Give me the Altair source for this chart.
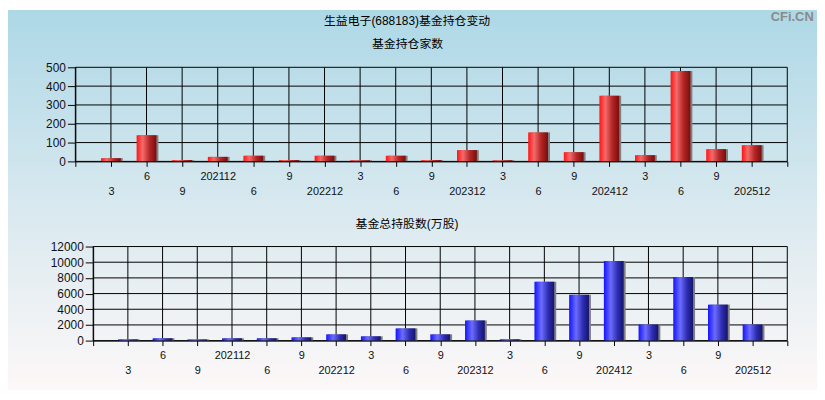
import altair as alt
import pandas as pd

# ---------------- data ----------------
periods = ["202103", "202106", "202109", "202112", "202206", "202209", "202212",
           "202303", "202306", "202309", "202312", "202403", "202406", "202409",
           "202412", "202503", "202506", "202509", "202512"]
fund_counts = [17, 139, 7, 24, 30, 7, 30, 6, 30, 7, 60, 6, 154, 49, 349, 33, 481, 65, 86]
fund_shares = [160, 300, 150, 300, 300, 420, 800, 550, 1560, 800, 2570, 170, 7500,
               5850, 10150, 2060, 8130, 4590, 2060]
count_ticks = [0, 100, 200, 300, 400, 500]
share_ticks = [0, 2000, 4000, 6000, 8000, 10000, 12000]
tick_labels = [p if p.endswith("12") else str(int(p[4:])) for p in periods]

main_title = "生益电子(688183)基金持仓变动"
top_title = "基金持仓家数"
bottom_title = "基金总持股数(万股)"
watermark = "CFi.CN"

n = len(periods)
df = pd.DataFrame({"idx": list(range(1, n + 1)), "period": periods,
                   "count": fund_counts, "shares": fund_shares})
xgrid = pd.DataFrame({"v": list(range(0, n + 2))})
one = pd.DataFrame({"a": [0]})

FONT = "Liberation Sans, Noto Sans CJK SC, sans-serif"
TOP_W, BOT_W, H = 719, 701, 95

labels_js = "[" + ",".join(f"'{l}'" for l in tick_labels) + "]"
label_expr = (f"datum.value >= 1 && datum.value <= {n} ? "
              f"(datum.value % 2 == 1 ? ['', {labels_js}[datum.value - 1]] : {labels_js}[datum.value - 1]) : ''")

red_grad = alt.Gradient(gradient="linear", x1=0, x2=1, y1=0, y2=0, stops=[
    alt.GradientStop(offset=0, color="#ff1414"),
    alt.GradientStop(offset=0.3, color="#f46a6a"),
    alt.GradientStop(offset=0.65, color="#b42626"),
    alt.GradientStop(offset=1, color="#7a0c0c")])
blue_grad = alt.Gradient(gradient="linear", x1=0, x2=1, y1=0, y2=0, stops=[
    alt.GradientStop(offset=0, color="#1414ff"),
    alt.GradientStop(offset=0.35, color="#6c6cff"),
    alt.GradientStop(offset=0.7, color="#2c2cb0"),
    alt.GradientStop(offset=1, color="#14146e")])
bg_grad = alt.Gradient(gradient="linear", x1=0, x2=0, y1=0, y2=1, stops=[
    alt.GradientStop(offset=0, color="#add8e6"),
    alt.GradientStop(offset=0.5, color="#d7e8ef"),
    alt.GradientStop(offset=1, color="#fdf8f8")])


def x_axis():
    return alt.Axis(values=list(range(0, n + 2)), labelExpr=label_expr, title=None,
                    grid=False, tickColor="black", tickSize=5, domainColor="black",
                    labelFontSize=11, labelColor="#111111", labelFont=FONT,
                    labelPadding=4, labelFlush=False, labelOverlap=False,
                    labelLineHeight=15, labelBound=False, zindex=1)


def y_axis(vals):
    return alt.Axis(values=vals, format="d", title=None, grid=False, tickColor="black",
                    tickSize=8, domainColor="black", labelFontSize=12,
                    labelColor="#111111", labelFont=FONT, labelPadding=2,
                    labelOverlap=False, zindex=1)


def text_mark(txt, x, y, size=12, weight="normal", color="black", baseline="middle"):
    return alt.Chart(one).mark_text(text=txt, font=FONT, fontSize=size, fontWeight=weight,
                                    color=color, align="center", baseline=baseline).encode(
        x=alt.value(x), y=alt.value(y))


def panel(field, ticks, width, grad):
    xs = alt.Scale(domain=[0, n + 1], nice=False, zero=False, padding=0)
    ys = alt.Scale(domain=[ticks[0], ticks[-1]], nice=False)

    def X(f):
        return alt.X(f"{f}:Q", scale=xs, axis=x_axis())

    def Y(f):
        return alt.Y(f"{f}:Q", scale=ys, axis=y_axis(ticks))

    vgrid = alt.Chart(xgrid).mark_rule(color="black", strokeWidth=1).encode(
        x=X("v"), y=alt.value(0), y2=alt.value(H))
    hgrid = alt.Chart(pd.DataFrame({"v": ticks})).mark_rule(color="black", strokeWidth=1).encode(
        y=Y("v"), x=alt.value(0), x2=alt.value(width))
    shadow = alt.Chart(df).mark_bar(size=20, xOffset=2, color="#808080").encode(
        x=X("idx"), y=Y(field))
    bars = alt.Chart(df).mark_bar(size=20, fill=grad).encode(
        x=X("idx"), y=Y(field))
    return [vgrid, hgrid, shadow, bars]


bg = alt.Chart(one).mark_rect(fill=bg_grad).encode(
    x=alt.value(-68), x2=alt.value(749), y=alt.value(-58), y2=alt.value(326))

top = alt.layer(
    bg,
    *panel("count", count_ticks, TOP_W, red_grad),
    text_mark(main_title, 335, -47),
    text_mark(top_title, 335.5, -23),
    text_mark(watermark, 724, -57, size=13, weight="bold", color="#8a8a8a", baseline="top"),
).properties(width=TOP_W, height=H)

bottom = alt.layer(
    *panel("shares", share_ticks, BOT_W, blue_grad),
    text_mark(bottom_title, 317, -23),
).properties(width=BOT_W, height=H)

spacer = alt.Chart(one).mark_point(opacity=0).encode(
    x=alt.value(0), y=alt.value(0)).properties(width=1, height=1)

bottom_row = alt.hconcat(spacer, bottom, spacing=17, bounds="flush")

chart = alt.vconcat(top, bottom_row, spacing=86, bounds="flush").properties(
    padding=0, background="white").configure_view(stroke=None)

chart.save("out.html", embed_options={"renderer": "svg", "actions": False})
